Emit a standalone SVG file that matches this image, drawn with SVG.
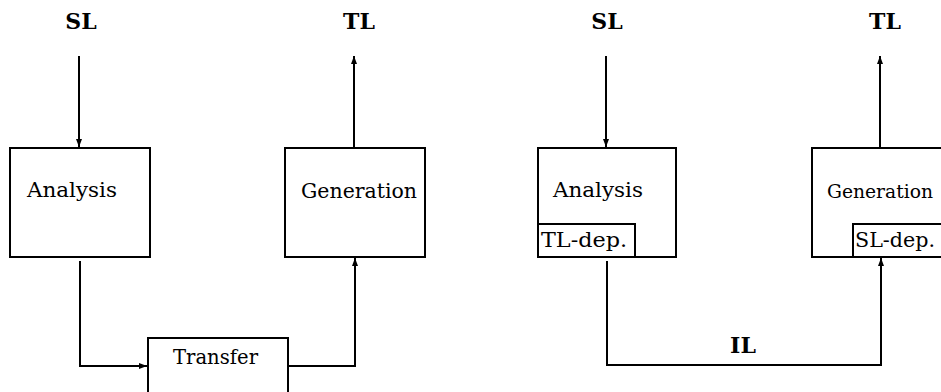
<svg xmlns="http://www.w3.org/2000/svg" width="941" height="392" viewBox="0 0 941 392">
<style>
.box{fill:#fff;stroke:#000;stroke-width:2}
.t{font-family:"DejaVu Serif","Liberation Serif",serif;font-size:21px;fill:#000}
.b{font-family:"DejaVu Serif","Liberation Serif",serif;font-size:22px;font-weight:bold;fill:#000;text-anchor:middle}
.c{fill:none;stroke:#000;stroke-width:2}
</style>
<defs>
<marker id="ah" viewBox="0 0 8 6" refX="8" refY="3" markerWidth="8" markerHeight="6" markerUnits="userSpaceOnUse" orient="auto">
<path d="M0,0 L8,3 L0,6 Z" fill="#000"/>
</marker>
</defs>
<rect width="941" height="392" fill="#fff"/>
<text class="b" x="81" y="29">SL</text>
<text class="b" x="359" y="29">TL</text>
<text class="b" x="607" y="29">SL</text>
<text class="b" x="885" y="29">TL</text>
<g id="analysis1"><rect class="box" x="10" y="148" width="140" height="109"/><text class="t" x="27" y="197" textLength="90" lengthAdjust="spacingAndGlyphs">Analysis</text></g>
<g id="generation1"><rect class="box" x="285" y="148" width="140" height="109"/><text class="t" x="301" y="198" textLength="116" lengthAdjust="spacingAndGlyphs">Generation</text></g>
<g id="transfer"><rect class="box" x="148" y="338" width="140" height="70"/><text class="t" x="173" y="364" textLength="85" lengthAdjust="spacingAndGlyphs">Transfer</text></g>
<g id="analysis2"><rect class="box" x="538" y="148" width="138" height="109"/><text class="t" x="553" y="197" textLength="90" lengthAdjust="spacingAndGlyphs">Analysis</text><rect class="box" x="538" y="224" width="97" height="33"/><text class="t" x="541" y="247" textLength="86" lengthAdjust="spacingAndGlyphs">TL-dep.</text></g>
<g id="generation2"><rect class="box" x="812" y="148" width="140" height="109"/><text class="t" x="827" y="198" style="font-size:19px" textLength="106" lengthAdjust="spacingAndGlyphs">Generation</text><rect class="box" x="853" y="224" width="99" height="33"/><text class="t" x="855" y="247" style="font-size:20px" textLength="80" lengthAdjust="spacingAndGlyphs">SL-dep.</text></g>
<text class="b" x="743" y="353">IL</text>
<g id="connectors">
<path class="c" d="M79,56 V147" marker-end="url(#ah)"/>
<path class="c" d="M354,148 V56" marker-end="url(#ah)"/>
<path class="c" d="M80,261 V366 H147" marker-end="url(#ah)"/>
<path class="c" d="M288,366 H355 V258" marker-end="url(#ah)"/>
<path class="c" d="M606,56 V147" marker-end="url(#ah)"/>
<path class="c" d="M880,148 V56" marker-end="url(#ah)"/>
<path class="c" d="M607,261 V365 H881 V258" marker-end="url(#ah)"/>
</g>
</svg>
